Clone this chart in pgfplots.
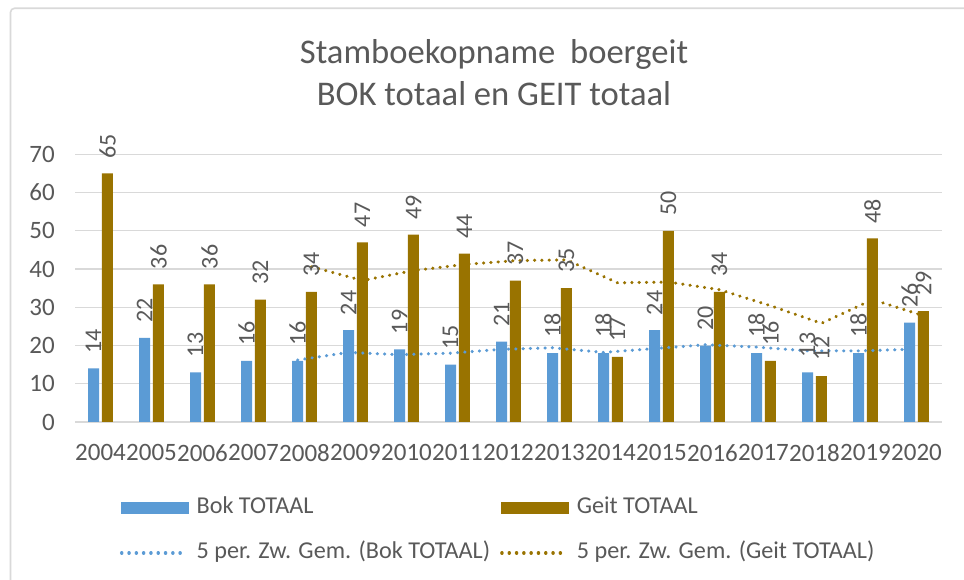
\documentclass[border=0pt]{standalone}
\usepackage{pgfplots}
\pgfplotsset{compat=1.18}
\usepackage{fontspec}
\setmainfont{Carlito}
\definecolor{bokblue}{HTML}{5B9BD5}
\definecolor{geitgold}{HTML}{997300}
\definecolor{txtgray}{HTML}{595959}
\definecolor{gridgray}{HTML}{D9D9D9}
\begin{document}
\begin{tikzpicture}[x=1pt,y=1pt]
\useasboundingbox[fill=white] (0,0) rectangle (964,580);
\draw[gridgray, line width=1.6pt, rounded corners=4pt] (10.5,-20) -- (10.5,571.7) -- (990,571.7);
\node[anchor=base, text=txtgray, font=\fontsize{34.6}{40}\selectfont, inner sep=0pt] at (494,516) {Stamboekopname\hspace{0.2em} boergeit};
\node[anchor=base, text=txtgray, font=\fontsize{34.6}{40}\selectfont, inner sep=0pt] at (494,474) {BOK totaal en GEIT totaal};
\begin{axis}[
  at={(75pt,158pt)}, anchor=south west,
  scale only axis, width=867pt, height=267.7pt,
  xmin=-0.5, xmax=16.5, ymin=0, ymax=70,
  xtick={0,...,16},
  xticklabels={2004,2005,2006,2007,2008,2009,2010,2011,2012,2013,2014,2015,2016,2017,2018,2019,2020},
  ytick={0,10,...,70},
  /pgf/number format/assume math mode=true,
  axis line style={draw=none},
  major tick length=0pt,
  tick style={draw=none},
  ymajorgrids,
  major grid style={gridgray, line width=1.4pt},
  every tick label/.append style={font=\fontsize{25}{29}\selectfont, text=txtgray},
  xticklabel style={inner sep=0pt, anchor=north, yshift=-22pt},
  yticklabel style={inner sep=0pt, anchor=east, xshift=-20pt},
  clip=false,
  legend columns=2,
  legend style={
    at={(axis description cs:0.0519,-0.282)}, anchor=north west,
    draw=none, fill=none, inner sep=0pt, outer sep=0pt,
    row sep=24pt,
    font=\fontsize{24.2}{28}\selectfont, text=txtgray,
    nodes={inner sep=0pt, text height=16pt, text depth=5pt},
    /tikz/every odd column/.append style={column sep=8pt},
    /tikz/every even column/.append style={column sep=10pt},
  },
  legend cell align=left,
  every node near coord/.append style={rotate=90, anchor=west, inner xsep=15pt, inner ysep=0pt, font=\fontsize{24}{28}\selectfont, text=txtgray},
]
\addplot[ybar, bar width=11pt, bar shift=0pt, fill=bokblue, draw=none,
  nodes near coords,
  legend image code/.code={\fill[bokblue] (0pt,-6pt) rectangle (68pt,6pt);}]
  coordinates {(-0.137,14) (0.863,22) (1.863,13) (2.863,16) (3.863,16) (4.863,24) (5.863,19) (6.863,15) (7.863,21) (8.863,18) (9.863,18) (10.863,24) (11.863,20) (12.863,18) (13.863,13) (14.863,18) (15.863,26)};
\addlegendentry{Bok TOTAAL}
\addplot[ybar, bar width=11pt, bar shift=0pt, fill=geitgold, draw=none,
  nodes near coords,
  legend image code/.code={\fill[geitgold] (0pt,-6pt) rectangle (68pt,6pt);}]
  coordinates {(0.137,65) (1.137,36) (2.137,36) (3.137,32) (4.137,34) (5.137,47) (6.137,49) (7.137,44) (8.137,37) (9.137,35) (10.137,17) (11.137,50) (12.137,34) (13.137,16) (14.137,12) (15.137,48) (16.137,29)};
\addlegendentry{Geit TOTAAL}
\addplot[bokblue, line width=3.2pt, dash pattern=on 0.3pt off 7pt, line cap=round, mark=none,
  legend image code/.code={\draw[bokblue, line width=3.2pt, dash pattern=on 0.3pt off 7pt, line cap=round] (1pt,0pt) -- (65pt,0pt);}]
  coordinates {(3.863,16.2) (4.863,18.2) (5.863,17.6) (6.863,18) (7.863,19) (8.863,19.4) (9.863,18.2) (10.863,19.2) (11.863,20.2) (12.863,19.6) (13.863,18.6) (14.863,18.6) (15.863,19)};
\addlegendentry{5 per. Zw. Gem. (Bok TOTAAL)}
\addplot[geitgold, line width=3.2pt, dash pattern=on 0.3pt off 7pt, line cap=round, mark=none,
  legend image code/.code={\draw[geitgold, line width=3.2pt, dash pattern=on 0.3pt off 7pt, line cap=round] (1pt,0pt) -- (65pt,0pt);}]
  coordinates {(4.137,40.6) (5.137,37) (6.137,39.6) (7.137,41.2) (8.137,42.2) (9.137,42.4) (10.137,36.4) (11.137,36.6) (12.137,34.6) (13.137,30.4) (14.137,25.8) (15.137,32) (16.137,27.8)};
\addlegendentry{5 per. Zw. Gem. (Geit TOTAAL)}
\end{axis}
\end{tikzpicture}
\end{document}
